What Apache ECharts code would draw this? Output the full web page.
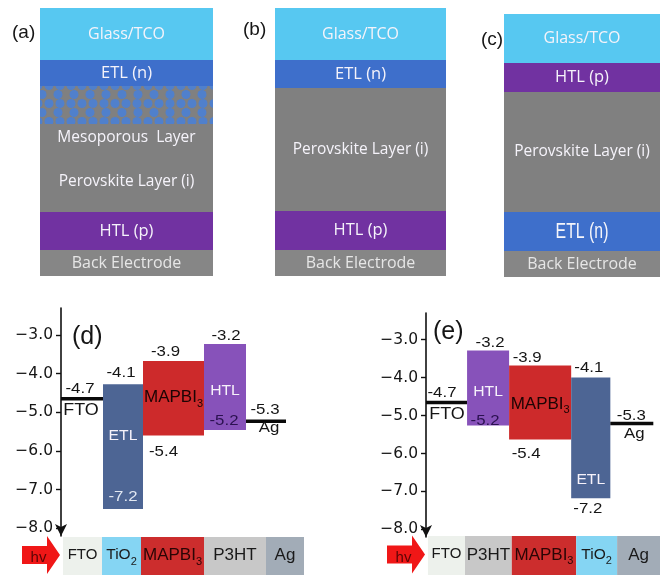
<!DOCTYPE html>
<html><head><meta charset="utf-8">
<script src="https://cdn.jsdelivr.net/npm/echarts@6/dist/echarts.min.js"></script>
<style>html,body{margin:0;padding:0;background:#fff}#c{width:660px;height:575px}</style>
</head><body><div id="c"></div>
<script>
// ---------------- data ----------------
// device structures (layer thickness, top to bottom, relative units)
const aLayers = ['Glass/TCO', 'ETL (n)', 'mesoporous', 'Mesoporous  Layer', 'Perovskite Layer (i)', 'HTL (p)', 'Back Electrode'];
const aThick = [52, 26, 38, 28, 60, 38, 26];
const bLayers = ['Glass/TCO', 'ETL (n)', 'Perovskite Layer (i)', 'HTL (p)', 'Back Electrode'];
const bThick = [52, 28, 123, 39, 26];
const cLayers = ['Glass/TCO', 'HTL (p)', 'Perovskite Layer (i)', 'ETL (n)', 'Back Electrode'];
const cThick = [49, 29, 120, 39, 26];

// energy axis ticks (eV)
const yTicks = [-3, -4, -5, -6, -7, -8];

// (d) band diagram
const dLayers = ['FTO', 'ETL', 'MAPBI3', 'HTL', 'Ag'];
const dWidth = [42, 40, 61, 42, 40];
const dTop = [-4.65, -4.27, -3.67, -3.23, -5.23];
const dBottom = [null, -7.5, -5.6, -5.46, null];
const dTopText = ['-4.7', '-4.1', '-3.9', '-3.2', '-5.3'];
const dBottomText = ['', '-7.2', '-5.4', '-5.2', ''];

// (e) band diagram
const eLayers = ['FTO', 'HTL', 'MAPBI3', 'ETL', 'Ag'];
const eWidth = [43, 44, 65, 41, 45];
const eTop = [-4.66, -3.29, -3.68, -4.0, -5.21];
const eBottom = [null, -5.26, -5.63, -7.18, null];
const eTopText = ['-4.7', '-3.2', '-3.9', '-4.1', '-5.3'];
const eBottomText = ['', '-5.2', '-5.4', '-7.2', ''];

// device stacks under (d) and (e)
const dStack = ['FTO', 'TiO2', 'MAPBI3', 'P3HT', 'Ag'];
const dStackW = [39, 39, 63, 62, 38];
const eStack = ['FTO', 'P3HT', 'MAPBI3', 'TiO2', 'Ag'];
const eStackW = [38, 48, 66, 42, 44];

const panelTitles = ['(a)', '(b)', '(c)', '(d)', '(e)'];

// ---------------- styles ----------------
const FONT = '"Liberation Sans", Arial, sans-serif';
const LFONT = '"Open Sans", "Noto Sans", sans-serif';
const layerColor = {
  'Glass/TCO': '#57C8F1', 'ETL (n)': '#3E6FCB', 'mesoporous': '#808080',
  'Mesoporous  Layer': '#808080', 'Perovskite Layer (i)': '#808080',
  'HTL (p)': '#7132A1', 'Back Electrode': '#868686'
};
const layerFont = {
  'Glass/TCO': 16, 'ETL (n)': 16.5, 'Mesoporous  Layer': 15.5, 'Perovskite Layer (i)': 15.5,
  'HTL (p)': 16.5, 'Back Electrode': 16
};
const bandColor = { ETL: '#4D6594', MAPBI3: '#CD2A2B', HTL: '#8752BA' };
const stackColor = { FTO: '#EDF1EC', TiO2: '#85D5F3', MAPBI3: '#CC2D2D', P3HT: '#C8C8C8', Ag: '#A2ACB7' };

const grids = [], xAxes = [], yAxes = [], series = [];
const sum = a => a.reduce((s, v) => s + v, 0);

function structPanel(layers, thick, g, bigEtl) {
  const gi = grids.length;
  grids.push(g);
  xAxes.push({ type: 'category', gridIndex: gi, data: ['x'], show: false, boundaryGap: true });
  yAxes.push({ type: 'value', gridIndex: gi, inverse: true, min: 0, max: sum(thick), show: false });
  let acc = 0;
  const extraLabels = [];
  layers.forEach((name, i) => {
    const isMeso = name === 'mesoporous';
    const big = bigEtl && name === 'ETL (n)';
    const mid = acc + thick[i] / 2;
    acc += thick[i];
    if (big) extraLabels.push({ name: name, mid: mid });
    series.push({
      type: 'bar', xAxisIndex: gi, yAxisIndex: gi, stack: 's' + gi, barWidth: '100%',
      silent: true, animation: false,
      data: [thick[i]],
      itemStyle: Object.assign({ color: layerColor[name] }, isMeso ? {
        decal: { symbol: 'circle', symbolSize: 1, color: 'rgba(74,128,212,0.9)', dashArrayX: [[10, 1], [0, 5, 10, 1]], dashArrayY: [9, 0] }
      } : {}),
      label: {
        show: !isMeso && !big, position: 'inside', formatter: name,
        color: name === 'Back Electrode' ? '#E6E6E6' : '#F5F3FA',
        fontFamily: LFONT, fontSize: layerFont[name] || 15
      }
    });
  });
  if (extraLabels.length) {
    // tall condensed label, positioned through the panel's own axes
    series.push({
      type: 'custom', xAxisIndex: gi, yAxisIndex: gi, silent: true, animation: false, z: 10,
      encode: { x: 0, y: 1 },
      data: extraLabels.map(l => ['x', l.mid]),
      renderItem: (params, api) => {
        const l = extraLabels[params.dataIndex];
        const p = api.coord([0, l.mid]);
        return { type: 'group', children: [{ type: 'text', x: p[0], y: p[1], scaleX: 0.72,
          style: { text: l.name, fill: '#F5F5FA', font: '22px ' + FONT, align: 'center', verticalAlign: 'middle' } }] };
      }
    });
  }
}

structPanel(aLayers, aThick, { left: 40, top: 8, width: 173, height: 268 });
structPanel(bLayers, bThick, { left: 275, top: 8, width: 171, height: 268 });
structPanel(cLayers, cThick, { left: 504, top: 14, width: 170, height: 263 }, true);

// label placement for band diagrams (pixel offsets)
const dPlace = {
  FTO: { top: [19, -10], name: [20, 12] },
  ETL: { top: [-2, -11], name: [0, -10], nameRef: 'mid', bot: [0, -12], botColor: '#E2E8F2' },
  MAPBI3: { top: [-8, -9], name: [0, 0], nameRef: 'mid', bot: [-10, 16] },
  HTL: { top: [1, -8], name: [0, 4], nameRef: 'mid', bot: [-1, -9], botColor: '#2B1150' },
  Ag: { top: [19, -11], name: [23, 7] }
};
const ePlace = {
  FTO: { top: [16, -10], name: [21, 12] },
  HTL: { top: [2, -8], name: [0, 4], nameRef: 'mid', bot: [-3, -5], botColor: '#2B1150' },
  MAPBI3: { top: [-13, -8], name: [0, 2], nameRef: 'mid', bot: [-14, 14] },
  ETL: { top: [-2, -10], name: [0, -18], nameRef: 'bot', bot: [-3, 11] },
  Ag: { top: [21, -8], name: [24, 10] }
};

function vtxt(text, x, y, fill, extra) {
  return {
    type: 'text', x: x, y: y, scaleX: 1.12,
    style: Object.assign({ text: text, fill: fill || '#151515', font: '15px ' + FONT, align: 'center', verticalAlign: 'middle' }, extra || {})
  };
}

function bandPanel(layers, widths, tops, bottoms, topTxt, botTxt, place, g) {
  const gi = grids.length;
  grids.push(g);
  xAxes.push({ type: 'value', gridIndex: gi, min: 0, max: g.width, show: false });
  yAxes.push({
    type: 'value', gridIndex: gi, min: -8.2, max: -2.3,
    axisLine: { show: true, onZero: false, symbol: ['arrow', 'none'], symbolSize: [9, 12], lineStyle: { color: '#111', width: 1.6 } },
    axisTick: { show: true, customValues: yTicks, length: 5, lineStyle: { color: '#111', width: 1.4 } },
    axisLabel: { customValues: yTicks, margin: 8, color: '#151515', fontSize: 15.5, fontFamily: '"DejaVu Sans", sans-serif',
      formatter: v => '\u2212' + Math.abs(v).toFixed(1) },
    splitLine: { show: false }
  });
  let acc = 0;
  const data = layers.map((n, i) => {
    const x0 = acc; acc += widths[i];
    return [x0, acc, tops[i], bottoms[i] == null ? tops[i] : bottoms[i], i];
  });
  series.push({
    type: 'custom', xAxisIndex: gi, yAxisIndex: gi, silent: true, animation: false, clip: false,
    encode: { x: [0, 1], y: [2, 3] },
    data: data,
    renderItem: (params, api) => {
      const i = params.dataIndex;
      const name = layers[i];
      const pl = place[name];
      const pA = api.coord([api.value(0), api.value(2)]);
      const pB = api.coord([api.value(1), api.value(3)]);
      const ch = [];
      if (bottoms[i] == null) {
        ch.push({ type: 'line', shape: { x1: pA[0], y1: pA[1], x2: pB[0], y2: pA[1] }, style: { stroke: '#0A0A0A', lineWidth: 3.5 } });
        ch.push(vtxt(topTxt[i], pA[0] + pl.top[0], pA[1] + pl.top[1]));
        ch.push(vtxt(name, pA[0] + pl.name[0], pA[1] + pl.name[1], '#151515', name === 'FTO' ? { font: '16px ' + FONT } : {}));
      } else {
        ch.push({ type: 'rect', shape: { x: pA[0], y: pA[1], width: pB[0] - pA[0], height: pB[1] - pA[1] }, style: { fill: bandColor[name] } });
        const cx = (pA[0] + pB[0]) / 2;
        const ref = pl.nameRef === 'bot' ? pB[1] : (pA[1] + pB[1]) / 2;
        ch.push(vtxt(topTxt[i], cx + pl.top[0], pA[1] + pl.top[1]));
        if (name === 'MAPBI3') {
          ch.push({ type: 'text', x: cx + pl.name[0], y: ref + pl.name[1],
            style: { text: '{m|MAPBI}{s|3}', align: 'center', verticalAlign: 'middle',
              rich: { m: { font: '17px ' + FONT, fill: '#1C0404', lineHeight: 18, verticalAlign: 'top' },
                      s: { font: '11px ' + FONT, fill: '#1C0404', lineHeight: 11, padding: [9, 0, 0, 0], verticalAlign: 'top' } } } });
        } else {
          ch.push(vtxt(name, cx + pl.name[0], ref + pl.name[1], '#F6F2FA', { font: '14px ' + FONT }));
        }
        ch.push(vtxt(botTxt[i], cx + pl.bot[0], pB[1] + pl.bot[1], pl.botColor || '#151515'));
      }
      return { type: 'group', children: ch };
    }
  });
}

bandPanel(dLayers, dWidth, dTop, dBottom, dTopText, dBottomText, dPlace, { left: 61, top: 308, width: 245, height: 228 });
bandPanel(eLayers, eWidth, eTop, eBottom, eTopText, eBottomText, ePlace, { left: 426, top: 313, width: 245, height: 224 });

function stackPanel(names, widths, arrowSpan, g) {
  const gi = grids.length;
  grids.push(g);
  xAxes.push({ type: 'value', gridIndex: gi, min: -arrowSpan, max: g.width - arrowSpan, show: false });
  yAxes.push({ type: 'category', gridIndex: gi, data: ['x'], show: false });
  names.forEach((n, i) => {
    series.push({
      type: 'bar', xAxisIndex: gi, yAxisIndex: gi, stack: 'st' + gi, barWidth: '100%', silent: true, animation: false,
      data: [widths[i]], itemStyle: { color: stackColor[n] },
      label: {
        show: true, position: 'inside', offset: [0, 0],
        formatter: n === 'TiO2' ? '{m|TiO}{s|2}' : (n === 'MAPBI3' ? '{m|MAPBI}{s|3}' : '{m|' + n + '}'),
        rich: {
          m: { fontFamily: FONT, fontSize: n === 'FTO' ? 15 : (n === 'TiO2' ? 15.5 : 17), color: n === 'MAPBI3' ? '#2A0505' : '#1A1A1A', lineHeight: 18, verticalAlign: 'top' },
          s: { fontFamily: FONT, fontSize: 11, color: n === 'MAPBI3' ? '#2A0505' : '#1A1A1A', lineHeight: 11, padding: [9, 0, 0, 0], verticalAlign: 'top' }
        }
      }
    });
  });
  // hv arrow drawn on the same axes
  series.push({
    type: 'custom', xAxisIndex: gi, yAxisIndex: gi, silent: true, animation: false, clip: false,
    data: [[-arrowSpan, -3]],
    renderItem: (params, api) => {
      const p0 = api.coord([api.value(0), 0]);
      const p1 = api.coord([api.value(1), 0]);
      const cy = p0[1] - 1, hx = p1[0] - 13;
      return { type: 'group', children: [
        { type: 'polygon', shape: { points: [[p0[0], cy - 9], [hx, cy - 9], [hx, cy - 19], [p1[0], cy], [hx, cy + 19], [hx, cy + 9], [p0[0], cy + 9]] }, style: { fill: '#F01717' } },
        { type: 'text', x: (p0[0] + hx) / 2 + 4, y: cy + 3, style: { text: 'hv', fill: '#5A0505', font: '15px ' + FONT, align: 'center', verticalAlign: 'middle' } }
      ] };
    }
  });
}

stackPanel(dStack, dStackW, 41, { left: 22, top: 537, width: 282, height: 42 });
stackPanel(eStack, eStackW, 42, { left: 387, top: 536, width: 280, height: 42 });

const titlePos = [[12, 23, 19], [243, 20, 19], [481, 30, 19], [72, 325, 25], [433, 320, 25]];
const titles = panelTitles.map((t, i) => ({
  text: t, left: titlePos[i][0], top: titlePos[i][1], padding: 0,
  textStyle: { fontFamily: FONT, fontWeight: 'normal', fontSize: titlePos[i][2], color: '#151515' }
}));

const chart = echarts.init(document.getElementById('c'), null, { renderer: 'canvas', width: 660, height: 575 });
chart.setOption({
  backgroundColor: '#ffffff',
  animation: false,
  title: titles,
  grid: grids, xAxis: xAxes, yAxis: yAxes, series: series
});
</script></body></html>
